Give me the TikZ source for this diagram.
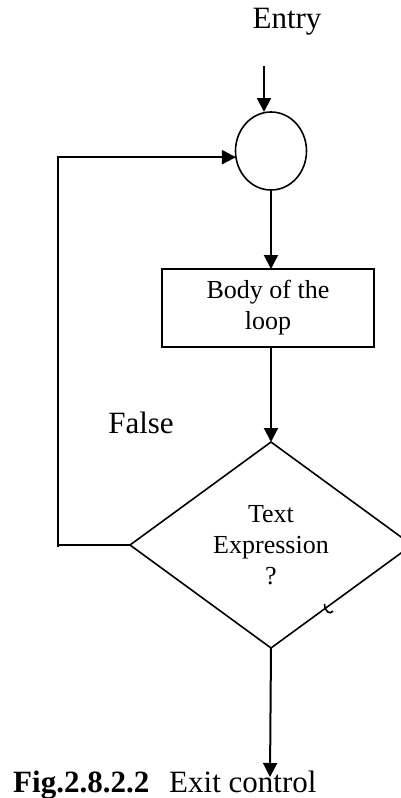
\documentclass[tikz,border=0pt]{standalone}
\usepackage{fontspec}
\setmainfont{Liberation Serif}
\usetikzlibrary{shapes.geometric,arrows.meta}
\begin{document}
\begin{tikzpicture}[x=1pt,y=-1pt,
  flow/.style={line width=2pt,-{Triangle[width=14pt,length=14pt]}},
  plainline/.style={line width=1.6pt},
  bigtext/.style={font=\fontsize{31}{37}\selectfont, inner sep=0pt},
  smalltext/.style={font=\fontsize{26}{31}\selectfont, align=center},
  junction/.style={ellipse, draw, line width=1.6pt, inner sep=0pt, outer sep=0pt,
                   minimum width=71pt, minimum height=78pt},
  bodybox/.style={rectangle, draw, line width=1.6pt, inner sep=0pt, outer sep=0pt,
                  minimum width=212pt, minimum height=78pt},
  testbox/.style={diamond, draw, line width=1.6pt, inner sep=0pt, outer sep=0pt,
                  aspect=1.37, minimum width=282pt, minimum height=206pt}]
\useasboundingbox (0,0) rectangle (401,798);
\clip (0,0) rectangle (401,798);

% labels
\node[bigtext] (entry) at (287,22) {Entry};
\node[bigtext] (false) at (141,423) {False};

% flowchart nodes
\node[junction] (circ) at (271,151) {};
\node[bodybox, smalltext] (body) at (268,308) {Body of the\\loop};
\node[testbox, smalltext] (test) at (271,545) {Text\\Expression\\?};

% free ends of the entry and exit connectors
\coordinate (ein) at (264,66);
\coordinate (eout) at (270,777);
\coordinate (corner) at (58,545);

% connectors
\draw[flow] (ein) -- (ein |- circ.north);
\draw[flow] (circ.south) -- (circ.south |- body.north);
\draw[flow] (body.south -| test.north) -- (test.north);
\draw[flow] (test.south) -- (eout);
\draw[plainline] (test.west) -- (corner);
\draw[flow] ([yshift=-1.5pt]corner) |- (circ.190);

% small hook on the lower right edge of the diamond
\draw[line width=1.6pt] (324.5,604) .. controls (325,612) and (330,615) .. (333,611);

% caption
\node[bigtext, anchor=base west] (caption) at (13,792) {\textbf{Fig.2.8.2.2}\hspace{20pt}Exit control};
\end{tikzpicture}
\end{document}
